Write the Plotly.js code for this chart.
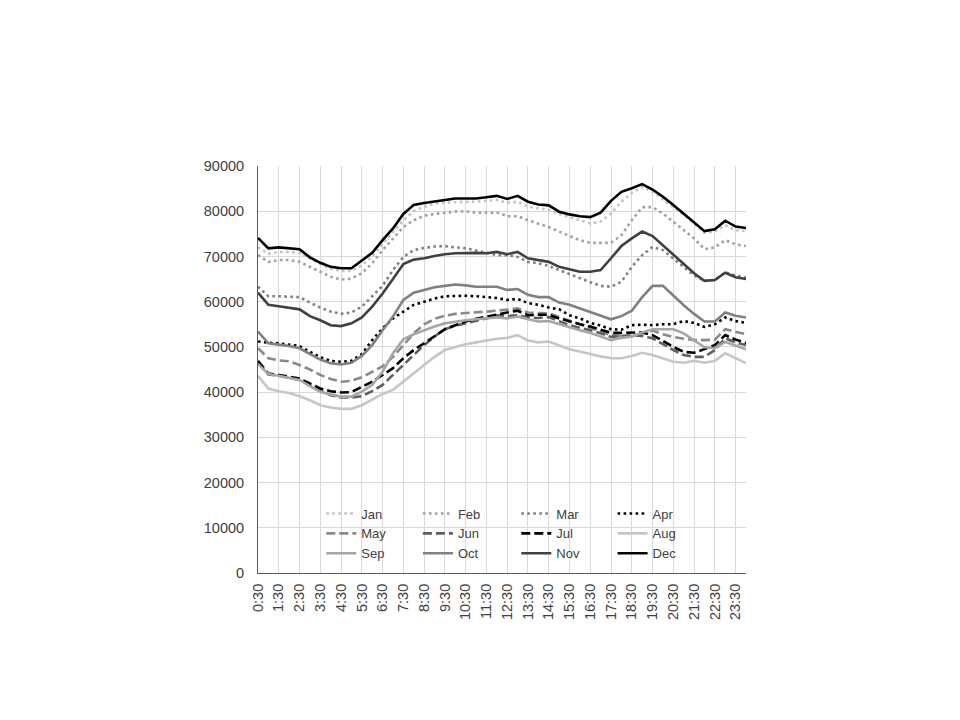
<!DOCTYPE html>
<html>
<head>
<meta charset="utf-8">
<script src="https://cdn.plot.ly/plotly-3.0.1.min.js"></script>
<style>html,body{margin:0;padding:0;background:#fff;}#chart{width:960px;height:720px;}</style>
</head>
<body>
<div id="chart"></div>
<script>
// Half-hour categories 0:30 ... 0:00
const categories = ["0:30","1:00","1:30","2:00","2:30","3:00","3:30","4:00","4:30","5:00","5:30","6:00",
  "6:30","7:00","7:30","8:00","8:30","9:00","9:30","10:00","10:30","11:00","11:30","12:00",
  "12:30","13:00","13:30","14:00","14:30","15:00","15:30","16:00","16:30","17:00","17:30","18:00",
  "18:30","19:00","19:30","20:00","20:30","21:00","21:30","22:00","22:30","23:00","23:30","0:00"];

const tickLabels = ["0:30","1:30","2:30","3:30","4:30","5:30","6:30","7:30","8:30","9:30","10:30","11:30",
  "12:30","13:30","14:30","15:30","16:30","17:30","18:30","19:30","20:30","21:30","22:30","23:30"];

const yTicks = [0,10000,20000,30000,40000,50000,60000,70000,80000,90000];

const seriesNames = ["Jan","Feb","Mar","Apr","May","Jun","Jul","Aug","Sep","Oct","Nov","Dec"];

const jan = [72000,70600,71000,71000,70800,69500,68300,67300,66800,66800,68000,70000,72700,75500,78000,80000,
  81000,81700,81900,82000,82100,82100,82300,82500,81900,82100,81000,80600,80300,79400,
  78700,78000,77300,77700,79500,82100,84000,85400,84300,82600,81000,79200,77300,75200,75500,76900,75800,75600];
const feb = [70300,68800,69200,69200,68800,67700,66600,65500,64900,65100,66300,68500,71400,74000,76500,78000,
  79000,79400,79700,79900,80000,79700,79700,79700,78900,78900,78000,77300,76500,75500,
  74500,73600,73000,73000,73000,74700,78000,80900,80900,79500,77700,75800,74000,71600,72000,73600,72700,72300];
const mar = [63300,61200,61200,61100,61000,59800,58700,57800,57300,57600,58900,61200,63500,67000,69900,71400,
  71900,72200,72300,72000,71800,71300,70800,70300,70300,69900,68800,68500,67900,67000,
  66000,65100,64300,63500,63300,64400,67700,70300,72100,71400,69500,67500,65800,64600,64800,66500,65800,65300];
const apr = [51200,50900,50800,50500,50200,48900,47700,46900,46700,46900,48400,51500,54100,56300,57800,59300,
  60000,60700,61200,61300,61300,61200,61000,60800,60400,60600,59700,59300,58700,58300,
  57000,56300,55300,54700,53900,53800,54800,54900,54800,55000,55000,55700,55300,54400,55000,56500,55700,55300];
const may = [49700,47500,47000,46800,46000,45000,43800,42900,42300,42500,43300,44500,45700,47800,50500,53000,
  55000,56200,56900,57300,57500,57600,57800,58000,58300,58500,57600,57500,57400,56600,
  55800,55000,54300,53400,52600,52400,52300,53000,53600,52800,52200,51800,51500,51500,51600,53900,53300,52800];
const jun = [46500,43900,43600,43200,42700,41500,40300,39300,38800,38800,39100,40200,41600,43800,46000,48300,
  50400,52300,53900,54700,55200,55800,56300,57000,56800,57000,56500,56400,56600,55700,
  54800,54200,53700,53000,52200,52400,52600,52400,51900,50600,49300,48200,47800,47800,49300,51900,51000,50400];
const jul = [46900,44100,43800,43400,43000,41900,40800,40200,39900,40000,41200,42300,43800,45300,47500,49300,
  50800,52400,53900,54800,55600,56200,56700,57200,57600,58000,57000,57100,57100,56300,
  55600,55000,54500,53800,53100,53100,53100,53200,52600,51300,50000,48900,48700,49500,50400,52600,51600,50900];
const aug = [43600,40800,40200,39800,39100,38200,37100,36600,36300,36300,37100,38300,39600,40500,42300,44200,
  46000,47800,49300,50000,50600,51000,51400,51800,52000,52600,51400,51000,51200,50300,
  49500,49000,48400,47900,47500,47500,48000,48700,48200,47500,46700,46500,46900,46500,46900,48600,47500,46400];
const sep = [46200,44000,43600,43200,42700,41300,40100,39500,39000,39000,40100,41600,44500,48600,51700,52800,
  53700,54500,55200,55600,55900,56100,56300,56500,56300,56700,56100,55600,55700,55000,
  54300,53700,53100,52300,51500,52000,52300,53200,53900,53900,53900,53000,51500,49900,49700,51100,50300,49500];
const oct = [53400,50800,50500,50200,49700,48400,47200,46400,46100,46500,48000,50400,53700,56700,60400,62000,
  62600,63200,63500,63800,63600,63300,63300,63300,62600,62800,61500,61000,61000,59800,
  59300,58500,57800,57000,56100,56800,58000,61000,63500,63500,61300,59200,57300,55600,55600,57600,56900,56500];
const nov = [62000,59300,59000,58700,58300,56800,55900,54800,54600,55200,56500,58900,61800,65000,68300,69300,
  69600,70100,70500,70700,70800,70800,70700,71000,70500,71000,69600,69200,68800,67700,
  67200,66600,66600,67000,69600,72300,74000,75500,74500,72500,70300,68300,66300,64600,64800,66400,65400,65000];
const dec = [74100,71800,72000,71800,71600,69800,68600,67700,67400,67400,69100,70800,73600,76200,79400,81400,
  81800,82200,82500,82800,82800,82800,83100,83400,82700,83400,82100,81500,81300,79900,
  79300,78900,78700,79700,82300,84300,85100,86000,84800,83200,81400,79500,77700,75600,76000,77900,76600,76300];

const seriesValues = [jan,feb,mar,apr,may,jun,jul,aug,sep,oct,nov,dec];

const styles = [
  {color:"#c3c3c3", dash:"2.6px,3.4px", width:2.6},
  {color:"#a0a0a0", dash:"2.6px,3.4px", width:2.6},
  {color:"#7f7f7f", dash:"2.6px,3.4px", width:2.6},
  {color:"#000000", dash:"2.6px,3.4px", width:2.6},
  {color:"#8a8a8a", dash:"9px,4px", width:2.6},
  {color:"#5e5e5e", dash:"9px,4px", width:2.6},
  {color:"#000000", dash:"9px,4px", width:2.6},
  {color:"#c6c6c6", dash:"solid", width:2.6},
  {color:"#a6a6a6", dash:"solid", width:2.6},
  {color:"#808080", dash:"solid", width:2.6},
  {color:"#404040", dash:"solid", width:2.6},
  {color:"#000000", dash:"solid", width:2.6}
];

// legend columns: Jan/May/Sep, Feb/Jun/Oct, Mar/Jul/Nov, Apr/Aug/Dec
const legendIds = ["legend","legend2","legend3","legend4"];

const traces = seriesNames.map((name, k) => ({
  type: "scatter",
  mode: "lines",
  name: name,
  legend: legendIds[k % 4],
  x: categories,
  y: seriesValues[k],
  line: {color: styles[k].color, dash: styles[k].dash, width: styles[k].width},
  hoverinfo: "x+y+name"
}));

const font = {family: "Liberation Sans, Arial, sans-serif", size: 14.5, color: "#404040"};
const legFont = {family: "Liberation Sans, Arial, sans-serif", size: 13, color: "#404040"};

function legendAt(xp) {
  return {
    orientation: "v",
    x: xp, xanchor: "left",
    y: 0.183, yanchor: "top",
    bgcolor: "rgba(0,0,0,0)",
    borderwidth: 0,
    itemwidth: 30,
    traceorder: "normal",
    font: legFont
  };
}

const layout = {
  width: 960, height: 720, autosize: false,
  paper_bgcolor: "#ffffff", plot_bgcolor: "#ffffff",
  margin: {l: 258, r: 214, t: 166, b: 147, pad: 0},
  font: font,
  showlegend: true,
  xaxis: {
    type: "category",
    categoryorder: "array",
    categoryarray: categories,
    range: [0, categories.length - 1],
    tickmode: "array",
    tickvals: tickLabels,
    ticktext: tickLabels,
    tickangle: -90,
    showgrid: true, gridcolor: "#d9d9d9", gridwidth: 1,
    showline: true, linecolor: "#595959", linewidth: 1,
    ticks: "", ticklabelstandoff: 4,
    zeroline: false,
    tickfont: font,
    fixedrange: true
  },
  yaxis: {
    range: [0, 90000],
    tickmode: "array",
    tickvals: yTicks,
    ticktext: yTicks.map(String),
    showgrid: true, gridcolor: "#d9d9d9", gridwidth: 1,
    showline: true, linecolor: "#595959", linewidth: 1,
    ticks: "", ticklabelstandoff: 10,
    zeroline: false,
    tickfont: font,
    fixedrange: true
  },
  legend: legendAt(0.1297),
  legend2: legendAt(0.3277),
  legend3: legendAt(0.5293),
  legend4: legendAt(0.7266)
};

Plotly.newPlot("chart", traces, layout, {displayModeBar: false, staticPlot: true});
</script>
</body>
</html>
